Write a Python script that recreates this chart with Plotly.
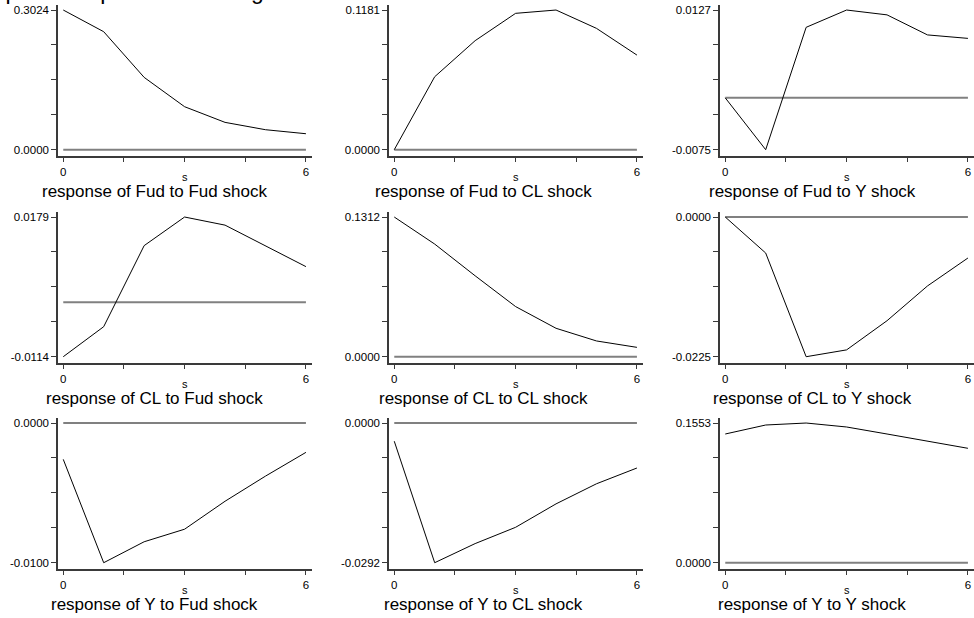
import plotly.graph_objects as go

# ---------------- data ----------------
steps = [0, 1, 2, 3, 4, 5, 6]
x_tick_vals = [0, 1.5, 3, 4.5, 6]
x_tick_text = ["0", "", "", "", "6"]
x_label = "s"

main_title = "Impulse-responses for 1 lag VAR of Fud CL Y"

panel_titles = [
    "response of Fud to Fud shock", "response of Fud to CL shock", "response of Fud to Y shock",
    "response of CL to Fud shock", "response of CL to CL shock", "response of CL to Y shock",
    "response of Y to Fud shock", "response of Y to CL shock", "response of Y to Y shock",
]

fud_to_fud = [0.3024, 0.2555, 0.1566, 0.0931, 0.0592, 0.0433, 0.0346]
fud_to_cl = [0.0000, 0.0617, 0.0922, 0.1153, 0.1181, 0.1026, 0.0800]
fud_to_y = [0.0000, -0.0075, 0.0102, 0.0127, 0.0120, 0.0091, 0.0086]
cl_to_fud = [-0.0114, -0.0051, 0.0119, 0.0179, 0.0162, 0.0118, 0.0075]
cl_to_cl = [0.1312, 0.1058, 0.0760, 0.0471, 0.0267, 0.0148, 0.0088]
cl_to_y = [0.0000, -0.0058, -0.0225, -0.0214, -0.0167, -0.0111, -0.0066]
y_to_fud = [-0.0026, -0.0100, -0.0085, -0.0076, -0.0056, -0.0038, -0.0021]
y_to_cl = [-0.0038, -0.0292, -0.0252, -0.0218, -0.0169, -0.0127, -0.0094]
y_to_y = [0.1431, 0.1531, 0.1553, 0.1509, 0.1431, 0.1350, 0.1272]

zero_line = [0, 0, 0, 0, 0, 0, 0]

series = [fud_to_fud, fud_to_cl, fud_to_y,
          cl_to_fud, cl_to_cl, cl_to_y,
          y_to_fud, y_to_cl, y_to_y]

# ---------------- layout geometry (pixels) ----------------
W, H = 974, 618
col_px = [(58, 312), (389, 643), (720, 974)]
row_px = [(5, 156), (212, 363), (418, 569)]
title_cx = [154, 483, 812]

FONT = "Liberation Sans, Arial, Helvetica, sans-serif"
AXIS_COLOR = "#3a3a3a"

fig = go.Figure()
layout = dict(
    width=W, height=H,
    margin=dict(l=0, r=0, t=0, b=0),
    paper_bgcolor="white", plot_bgcolor="white",
    showlegend=False,
    font=dict(family=FONT, color="black"),
)
annotations = []

for i, vals in enumerate(series):
    r, c = divmod(i, 3)
    n = i + 1
    xa = "x" if n == 1 else f"x{n}"
    ya = "y" if n == 1 else f"y{n}"
    xkey = "xaxis" if n == 1 else f"xaxis{n}"
    ykey = "yaxis" if n == 1 else f"yaxis{n}"

    # zero reference line
    fig.add_trace(go.Scatter(x=steps, y=zero_line, mode="lines",
                             line=dict(color="#808080", width=2),
                             xaxis=xa, yaxis=ya, hoverinfo="skip"))
    # response
    fig.add_trace(go.Scatter(x=steps, y=vals, mode="lines",
                             line=dict(color="black", width=1),
                             xaxis=xa, yaxis=ya))

    ymin = min(vals + [0])
    ymax = max(vals + [0])
    d = ymax - ymin
    yticks = [ymin + d * k / 4 for k in range(5)]
    ytext = [f"{ymin:.4f}", "", "", "", f"{ymax:.4f}"]

    x0, x1 = col_px[c]
    t0, t1 = row_px[r]
    layout[xkey] = dict(
        domain=[x0 / W, x1 / W], anchor=ya,
        range=[-0.13, 6.15], showgrid=False, zeroline=False,
        showline=True, linecolor=AXIS_COLOR, linewidth=1.5,
        ticks="outside", ticklen=4, tickwidth=1, tickcolor=AXIS_COLOR,
        tickvals=x_tick_vals, ticktext=x_tick_text,
        tickfont=dict(size=11.5, family=FONT, color="black"),
    )
    layout[ykey] = dict(
        domain=[1 - t1 / H, 1 - t0 / H], anchor=xa,
        range=[ymin - 0.045 * d, ymax + 0.036 * d],
        showgrid=False, zeroline=False,
        showline=True, linecolor=AXIS_COLOR, linewidth=1.5,
        ticks="outside", ticklen=5, tickwidth=1, tickcolor=AXIS_COLOR,
        tickvals=yticks, ticktext=ytext,
        tickfont=dict(size=11.5, family=FONT, color="black"),
    )
    # axis title "s"
    annotations.append(dict(
        x=3, xref=xa, y=1 - (t1 + 21) / H, yref="paper",
        text=x_label, showarrow=False, xanchor="center", yanchor="middle",
        font=dict(size=11, family=FONT, color="black"),
    ))
    # panel caption
    annotations.append(dict(
        x=title_cx[c] / W, xref="paper", y=1 - (t1 + 35.5) / H, yref="paper",
        text=panel_titles[i], showarrow=False, xanchor="center", yanchor="middle",
        font=dict(size=17, family=FONT, color="black"),
    ))

# overall title, cut off at the top edge of the picture (only descenders show)
annotations.append(dict(
    x=-22 / W, xref="paper", y=1 + 9 / H, yref="paper",
    text=main_title, showarrow=False, xanchor="left", yanchor="middle",
    font=dict(size=23, family=FONT, color="black"),
))

layout["annotations"] = annotations
fig.update_layout(**layout)
fig.write_html(
    "out.html",
    config={"displayModeBar": False},
    post_script="document.body.style.margin='0px';document.body.style.padding='0px';"
                "document.body.style.overflow='hidden';",
)
